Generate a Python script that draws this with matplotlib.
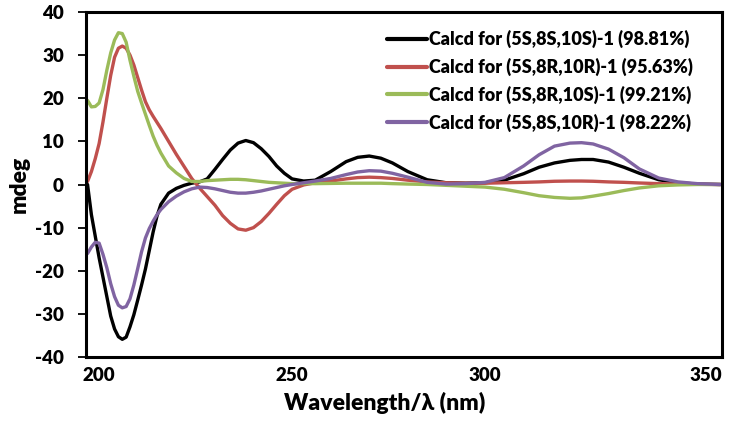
import matplotlib
matplotlib.use("Agg")
import matplotlib.pyplot as plt
from matplotlib.transforms import ScaledTranslation

plt.rcParams['font.family'] = ['Lato', 'DejaVu Sans']
plt.rcParams['font.weight'] = 'bold'

wavelength = [197, 198, 199, 200, 201, 202, 203, 204, 205, 206, 207, 208, 209, 210, 211, 212, 213,
              214, 215, 216, 218, 220,
              222, 224, 226, 228, 230, 232, 234, 236, 238, 240, 242, 244, 246, 248, 250,
              253, 256, 260, 264, 267, 270, 273, 276, 280, 285, 290, 295, 300, 305, 310,
              314, 318, 322, 325, 328, 332, 336, 340, 345, 350, 355, 361]

s_8s_10s = [0, -7, -12, -17, -21.5, -26, -30.5, -33.5, -35.3, -35.9, -35.4, -33.0, -30.2, -26.8, -23.3,
            -19.6, -15.3, -11.0, -7.3, -4.6, -2.0, -0.9,
            -0.2, 0.3, 0.6, 1.3, 3.5, 5.8, 8.0, 9.6, 10.2, 9.7, 8.3, 6.5, 4.3, 2.6, 1.3,
            0.8, 1.0, 3.0, 5.3, 6.3, 6.6, 6.1, 5.0, 3.0, 1.1, 0.4, 0.3, 0.4, 1.0, 2.5,
            4.0, 5.0, 5.6, 5.8, 5.8, 5.2, 4.0, 2.6, 1.1, 0.4, 0.1, 0]

s_8r_10r = [0.7, 3.0, 6.0, 9.5, 14.5, 20, 25.3, 29.5, 31.6, 32.1, 31.6, 30.0, 27.7, 24.8, 21.9,
            19.2, 17.3, 15.8, 14.4, 13.0, 10.0, 7.0,
            4.2, 1.4, -0.8, -2.8, -4.8, -7.2, -9.0, -10.3, -10.6, -10.0, -8.6, -6.7, -4.6, -2.6, -1.1,
            -0.1, 0.4, 0.8, 1.3, 1.6, 1.7, 1.6, 1.4, 1.0, 0.6, 0.4, 0.3, 0.3, 0.4, 0.5,
            0.6, 0.75, 0.8, 0.8, 0.75, 0.6, 0.5, 0.35, 0.2, 0.1, 0.05, 0]

s_8r_10s = [19.5, 18.0, 18.1, 18.9, 22.0, 26.5, 30.5, 33.5, 35.2, 35.0, 33.0, 28.8, 25.1, 21.6, 18.9,
            16.3, 13.7, 11.2, 9.1, 7.3, 4.3, 2.7,
            1.4, 0.7, 0.7, 0.9, 1.0, 1.1, 1.2, 1.2, 1.1, 0.9, 0.7, 0.5, 0.4, 0.3, 0.2,
            0.2, 0.2, 0.25, 0.3, 0.3, 0.3, 0.3, 0.2, 0.1, 0, -0.2, -0.4, -0.6, -1.1, -1.9,
            -2.6, -3.0, -3.2, -3.1, -2.7, -2.1, -1.4, -0.8, -0.3, -0.1, 0, 0]

s_8s_10r = [-16, -14.5, -13.4, -13.6, -16.2, -19.3, -23.0, -26, -28, -28.6, -28.3, -26.5, -23.3, -19.5, -15.6,
            -12.4, -10.2, -8.5, -7.0, -5.8, -4.0, -2.7,
            -1.7, -1.0, -0.6, -0.7, -1.0, -1.4, -1.8, -2.0, -2.0, -1.8, -1.5, -1.1, -0.7, -0.3, 0.0,
            0.4, 0.8, 1.4, 2.3, 2.9, 3.2, 3.1, 2.6, 1.7, 0.5, 0.1, 0.2, 0.5, 1.6, 4.3,
            6.9, 8.9, 9.6, 9.7, 9.4, 8.2, 6.2, 3.6, 1.5, 0.6, 0.2, 0]

labels = ['Calcd for (5S,8S,10S)-1 (98.81%)',
          'Calcd for (5S,8R,10R)-1 (95.63%)',
          'Calcd for (5S,8R,10S)-1 (99.21%)',
          'Calcd for (5S,8S,10R)-1 (98.22%)']
colors = ['#000000', '#C0504D', '#9BBB59', '#8064A2']
series = [s_8s_10s, s_8r_10r, s_8r_10s, s_8s_10r]

x_ticks = [200, 250, 300, 350]
y_ticks = [-40, -30, -20, -10, 0, 10, 20, 30, 40]

fig = plt.figure(figsize=(7.30, 4.29), dpi=100)
ax = fig.add_axes([86/730, 1 - 357/429, (722-86)/730, (357-12)/429])

for ys, c, lab in zip(series, colors, labels):
    ax.plot(wavelength, ys, color=c, lw=2.4, label=lab, solid_capstyle='round',
            solid_joinstyle='round')

ax.set_xlim(196.6, 361.4)
ax.set_ylim(-40, 40)
ax.set_xticks(x_ticks)
ax.set_xticklabels([str(t) for t in x_ticks])
ax.set_yticks(y_ticks)
ax.set_yticklabels([str(t) for t in y_ticks])

for sp in ax.spines.values():
    sp.set_linewidth(2.2)
    sp.set_color('black')

ax.tick_params(axis='y', direction='out', length=6, width=1.3, pad=10, labelsize=13.5)
ax.tick_params(axis='x', length=0, pad=7, labelsize=13.5)
for lbl in ax.get_yticklabels() + ax.get_xticklabels():
    lbl.set_fontweight('heavy')

# the last x label sits near the right end of the axis in the reference
last = ax.get_xticklabels()[-1]
last.set_transform(last.get_transform() + ScaledTranslation(28/100, 0, fig.dpi_scale_trans))

ax.set_xlabel('Wavelength/λ (nm)', fontsize=16.5, fontweight='heavy')
ax.xaxis.set_label_coords(0.47, -0.133)
ax.xaxis.label.set_va('center')
ax.set_ylabel('mdeg', fontsize=16.5, fontweight='heavy')
ax.yaxis.set_label_coords(-0.105, 0.5)
ax.yaxis.label.set_va('center')

leg = ax.legend(loc='upper left', bbox_to_anchor=((387-86)/636, 1 - (30-12)/345),
                frameon=False, fontsize=13, handlelength=2.2, handletextpad=0.1,
                labelspacing=0.53, borderaxespad=0, borderpad=0)
for t in leg.get_texts():
    t.set_fontweight('heavy')
for h in leg.get_lines():
    h.set_linewidth(3)

fig.savefig('out.png', dpi=100)
